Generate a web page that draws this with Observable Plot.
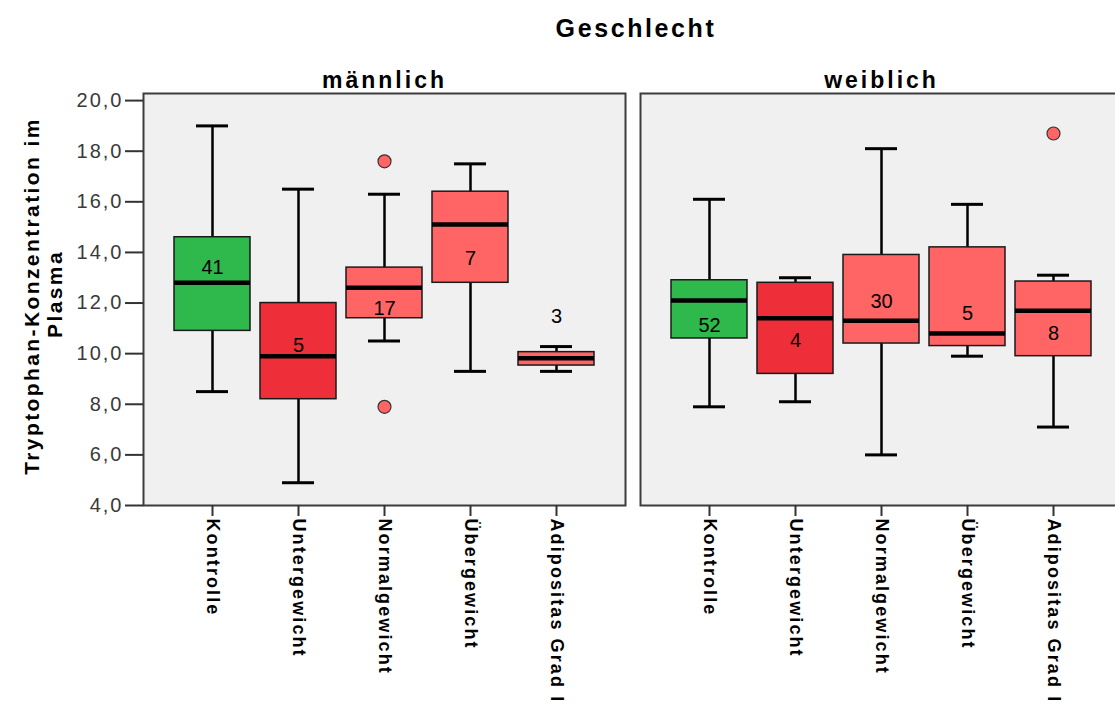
<!DOCTYPE html>
<html>
<head>
<meta charset="utf-8">
<script src="https://cdn.jsdelivr.net/npm/d3@7"></script>
<script src="https://cdn.jsdelivr.net/npm/@observablehq/plot@0.6"></script>
<style>
html, body { margin: 0; padding: 0; background: #ffffff; overflow: hidden; }
#chart svg { display: block; max-width: none !important; width: 1125px !important; height: 706px !important; }
g[aria-label="y-axis tick label"] text { font-size: 20px; letter-spacing: 2px; fill: #3a3a3a; }
g[aria-label="x-axis tick label"] text { font-size: 18px; font-weight: bold; letter-spacing: 2.1px; fill: #000; }
.ytitle, .maintitle, .facetlabel { font-family: "Liberation Sans", Arial, sans-serif; font-weight: bold; fill: #000; }
</style>
</head>
<body>
<div id="chart"></div>
<script>
// ---- data ----
const genders = ["männlich", "weiblich"];
const groups = ["Kontrolle", "Untergewicht", "Normalgewicht", "Übergewicht", "Adipositas Grad I"];

const maleLow    = [8.5, 4.9, 10.5, 9.3, 9.3];
const maleQ1     = [10.9, 8.2, 11.4, 12.8, 9.53];
const maleMedian = [12.8, 9.9, 12.6, 15.1, 9.82];
const maleQ3     = [14.6, 12.0, 13.4, 16.4, 10.06];
const maleHigh   = [19.0, 16.5, 16.3, 17.5, 10.28];
const maleN      = [41, 5, 17, 7, 3];
const maleLabelY = [13.4, 10.3, 11.8, 13.75, 11.45];

const femaleLow    = [7.9, 8.1, 6.0, 9.9, 7.1];
const femaleQ1     = [10.6, 9.2, 10.4, 10.3, 9.9];
const femaleMedian = [12.1, 11.4, 11.3, 10.8, 11.7];
const femaleQ3     = [12.9, 12.8, 13.9, 14.2, 12.85];
const femaleHigh   = [16.1, 13.0, 18.1, 15.9, 13.1];
const femaleN      = [52, 4, 30, 5, 8];
const femaleLabelY = [11.1, 10.5, 12.05, 11.6, 10.8];

const outlierGender = ["männlich", "männlich", "weiblich"];
const outlierGroup  = ["Normalgewicht", "Normalgewicht", "Adipositas Grad I"];
const outlierValue  = [17.6, 7.9, 18.7];

const yTicks = [4, 6, 8, 10, 12, 14, 16, 18, 20];

// ---- build tables ----
const series = {
  "männlich": [maleLow, maleQ1, maleMedian, maleQ3, maleHigh, maleN, maleLabelY],
  "weiblich": [femaleLow, femaleQ1, femaleMedian, femaleQ3, femaleHigh, femaleN, femaleLabelY]
};
const rows = [];
for (const g of genders) {
  const [lo, q1, md, q3, hi, n, ly] = series[g];
  groups.forEach((c, i) => rows.push({gender: g, group: c, low: lo[i], q1: q1[i], median: md[i], q3: q3[i], high: hi[i], n: n[i], labelY: ly[i]}));
}
const outliers = outlierValue.map((v, i) => ({gender: outlierGender[i], group: outlierGroup[i], value: v}));

const palette = ["#2fb84b", "#ee2e38", "#ff6565", "#ff6565", "#ff6565"];

const plot = Plot.plot({
  width: 1125,
  height: 706,
  marginTop: 93,
  marginBottom: 201,
  marginLeft: 143,
  marginRight: 3,
  style: {fontFamily: "Liberation Sans, Arial, sans-serif", background: "#ffffff", color: "#000"},
  fx: {domain: genders, paddingInner: 0.0302, paddingOuter: 0, axis: null, label: null},
  x: {domain: groups, paddingInner: 0.115, paddingOuter: 0.337, label: null},
  y: {domain: [4, 20.28], label: null},
  color: {domain: groups, range: palette},
  marks: [
    Plot.frame({fill: "#f0f0f0", stroke: "#3c3c3c", strokeWidth: 2}),
    Plot.axisY({ticks: yTicks, tickFormat: d => d.toFixed(1).replace(".", ","), tickSize: 18, tickPadding: 2, strokeWidth: 2, stroke: "#333", label: null}),
    Plot.axisX({tickRotate: 90, tickSize: 11, tickPadding: 2, strokeWidth: 2, stroke: "#333", label: null}),
    Plot.ruleX(rows, {fx: "gender", x: "group", y1: "low", y2: "high", stroke: "#000", strokeWidth: 2.5}),
    Plot.tickY(rows, {fx: "gender", x: "group", y: "low", insetLeft: 22, insetRight: 22, stroke: "#000", strokeWidth: 3}),
    Plot.tickY(rows, {fx: "gender", x: "group", y: "high", insetLeft: 22, insetRight: 22, stroke: "#000", strokeWidth: 3}),
    Plot.barY(rows, {fx: "gender", x: "group", y1: "q1", y2: "q3", fill: "group", stroke: "#1a1a1a", strokeWidth: 1.5}),
    Plot.tickY(rows, {fx: "gender", x: "group", y: "median", stroke: "#000", strokeWidth: 4.5}),
    Plot.dot(outliers, {fx: "gender", x: "group", y: "value", r: 6.5, fill: "group", stroke: "#333", strokeWidth: 1.2}),
    Plot.text(rows, {fx: "gender", x: "group", y: "labelY", text: d => String(d.n), fontSize: 20, fill: "#000"}),
    Plot.text(genders, {fx: d => d, text: d => d, frameAnchor: "top", lineAnchor: "bottom", dy: -6, fontSize: 23, fontWeight: "bold", fill: "#000"})
  ]
});

document.getElementById("chart").appendChild(plot);

const svg = d3.select(plot);
// letter spacing for the facet labels
svg.selectAll("text").filter(function () { return genders.includes(this.textContent); })
  .attr("class", "facetlabel")
  .style("letter-spacing", "3px");

svg.append("text")
  .attr("class", "maintitle")
  .attr("x", 636).attr("y", 37)
  .attr("text-anchor", "middle")
  .style("font-size", "25px").style("letter-spacing", "2.6px")
  .text("Geschlecht");
svg.append("text")
  .attr("class", "ytitle")
  .attr("transform", "translate(39,296) rotate(-90)")
  .attr("text-anchor", "middle")
  .style("font-size", "21px").style("letter-spacing", "2.4px")
  .text("Tryptophan-Konzentration im");
svg.append("text")
  .attr("class", "ytitle")
  .attr("transform", "translate(62,294) rotate(-90)")
  .attr("text-anchor", "middle")
  .style("font-size", "21px").style("letter-spacing", "2.4px")
  .text("Plasma");
</script>
</body>
</html>
